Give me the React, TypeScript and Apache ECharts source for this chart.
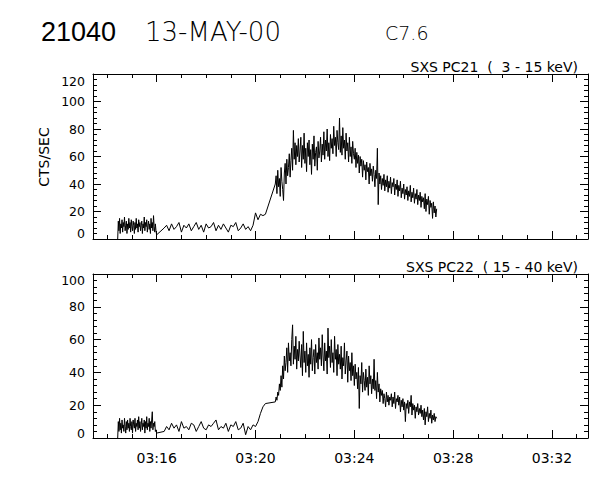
import React, { useEffect, useRef } from "react";
import * as echarts from "echarts";

// ---- time axis (minutes after 03:00) ----
const X_MIN = 13.42;
const X_MAX = 33.46;
const MAJOR_TICKS = [16, 20, 24, 28, 32];
const MINOR_TICKS = [14, 15, 17, 18, 19, 21, 22, 23, 25, 26, 27, 29, 30, 31, 33];

// ---- sampling of the three data segments (start minute, cadence in seconds) ----
const SEG1_START = 14.42;
const SEG1_DT = 1.5;
const SEG2_START = 16.3;
const SEG2_DT = 6;
const SEG3_START = 20.8;
const SEG3_DT = 2;

// ---- SXS PC21 (3 - 15 keV) counts/sec ----
const pc21Seg1 = [0, 13, 6, 15, 4, 11, 8, 14, 5, 12, 9, 16, 6, 10, 13, 4, 11, 7, 15, 8, 12, 5, 14, 9, 6, 13, 10, 4, 12, 7, 15, 8, 11, 5, 14, 9, 12, 6, 10, 13, 4, 11, 8, 16, 6, 12, 9, 14, 5, 10, 13, 7, 11, 4, 15, 8, 12, 6, 17, 9, 5, 11, 6, 3];
const pc21Seg2 = [8, 10, 6, 11, 7, 9, 12, 5, 10, 8, 11, 6, 9, 12, 7, 10, 5, 11, 8, 9, 12, 6, 10, 7, 11, 8, 5, 10, 9, 12, 6, 8, 11, 7, 9, 6, 10, 19, 14, 18, 17, 18];
const pc21Seg3 = [
  40, 46, 33, 50, 38, 44, 31, 52, 42, 36,
  28, 48, 55, 40, 58, 46, 52, 62, 45, 57,
  66, 50, 79, 58, 70, 54, 68, 60, 73, 56,
  64, 74, 52, 68, 58, 77, 55, 66, 49, 70,
  60, 72, 54, 65, 47, 69, 58, 75, 53, 63,
  67, 50, 71, 59, 64, 74, 56, 69, 61, 78,
  58, 72, 64, 80, 60, 70, 57, 76, 66, 73,
  62, 82, 68, 74, 60, 79, 70, 65, 88, 63,
  75, 61, 81, 66, 72, 58, 77, 64, 70, 56,
  74, 60, 67, 55, 71, 62, 58, 66, 52, 63,
  55, 61, 48, 60, 53, 58, 45, 57, 50, 54,
  43, 56, 49, 52, 40, 55, 46, 51, 42, 53,
  47, 38, 50, 44, 66, 25, 48, 40, 46, 36,
  44, 39, 47, 35, 43, 38, 46, 34, 42, 37,
  45, 33, 41, 38, 44, 32, 40, 36, 43, 31,
  39, 35, 42, 30, 37, 33, 40, 29, 36, 32,
  38, 28, 35, 31, 39, 27, 34, 30, 37, 26,
  33, 29, 36, 25, 32, 28, 34, 23, 31, 27,
  30, 22, 33, 20, 29, 25, 31, 18, 28, 23,
  26, 15, 27, 19, 24, 16, 22,
];

// ---- SXS PC22 (15 - 40 keV) counts/sec ----
const pc22Seg1 = [0, 10, 4, 12, 5, 9, 3, 11, 6, 8, 4, 12, 7, 3, 10, 5, 11, 6, 9, 4, 12, 7, 5, 10, 3, 11, 8, 6, 12, 4, 9, 7, 11, 5, 13, 6, 10, 4, 8, 12, 5, 9, 7, 11, 3, 10, 6, 13, 5, 9, 7, 12, 4, 10, 6, 11, 16, 5, 9, 7, 10, 4, 5, 3];
const pc22Seg2 = [4, 7, 5, 9, 6, 8, 4, 10, 6, 7, 5, 9, 8, 4, 7, 10, 6, 5, 8, 7, 9, 11, 5, 7, 6, 9, 4, 8, 7, 10, 5, 6, 9, 2, 7, 5, 8, 7, 10, 15, 19, 21];
const pc22Seg3 = [
  22, 25, 23, 28, 26, 33, 29, 38, 31, 44,
  36, 50, 41, 46, 55, 40, 58, 47, 52, 44,
  60, 69, 45, 56, 48, 62, 42, 54, 47, 59,
  50, 43, 57, 38, 65, 46, 53, 40, 58, 44,
  51, 37, 55, 45, 60, 41, 49, 54, 39, 57,
  46, 52, 42, 61, 48, 55, 44, 63, 50, 41,
  58, 47, 53, 39, 67, 49, 56, 43, 60, 46,
  52, 40, 62, 48, 54, 38, 57, 45, 51, 42,
  56, 36, 49, 44, 58, 39, 47, 53, 34, 50,
  41, 46, 35, 52, 38, 44, 32, 45, 36, 40,
  30, 43, 18, 38, 33, 46, 28, 40, 35, 29,
  42, 31, 37, 26, 44, 33, 38, 27, 36, 30,
  48, 29, 35, 24, 40, 28, 33, 22, 30, 26,
  29, 21, 27, 24, 19, 28, 22, 26, 20, 25,
  23, 27, 19, 25, 21, 28, 18, 24, 22, 26,
  20, 25, 16, 23, 19, 24, 17, 22, 10, 21,
  18, 23, 15, 22, 19, 26, 14, 21, 17, 20,
  12, 19, 16, 21, 14, 18, 15, 20, 13, 17,
  11, 18, 8, 16, 13, 19, 10, 15, 12, 17,
  9, 14, 11, 15, 10, 13, 12,
];

const TOP_Y_MAX = 120;
const BOTTOM_Y_MAX = 100;
const Y_INTERVAL = 20;

const segment = (start: number, dtSec: number, values: number[]) =>
  values.map((v, i) => [start + (i * dtSec) / 60, v]);

const buildSeries = (s1: number[], s2: number[], s3: number[]) => [
  ...segment(SEG1_START, SEG1_DT, s1),
  ...segment(SEG2_START, SEG2_DT, s2),
  ...segment(SEG3_START, SEG3_DT, s3),
];

const FONT = "DejaVu Sans";
const BLACK = "#000";

const fmtTime = (v: number) => "03:" + String(Math.round(v)).padStart(2, "0");

function xAxesFor(g: number, showLabels: boolean) {
  const base = {
    type: "value",
    gridIndex: g,
    min: X_MIN,
    max: X_MAX,
    splitLine: { show: false },
  };
  const line = { show: true, onZero: false, lineStyle: { color: BLACK, width: 1 } };
  const noLine = { show: false, onZero: false };
  return [
    {
      ...base,
      position: "bottom",
      axisLine: line,
      axisTick: { show: true, inside: true, length: 8, customValues: MAJOR_TICKS, lineStyle: { color: BLACK } },
      axisLabel: {
        show: showLabels,
        customValues: MAJOR_TICKS,
        formatter: fmtTime,
        color: BLACK,
        fontFamily: FONT,
        fontSize: 14,
        margin: 13,
      },
    },
    {
      ...base,
      position: "bottom",
      axisLine: noLine,
      axisTick: { show: true, inside: true, length: 4, customValues: MINOR_TICKS, lineStyle: { color: BLACK } },
      axisLabel: { show: false },
    },
    {
      ...base,
      position: "top",
      axisLine: line,
      axisTick: { show: true, inside: true, length: 8, customValues: MAJOR_TICKS, lineStyle: { color: BLACK } },
      axisLabel: { show: false },
    },
    {
      ...base,
      position: "top",
      axisLine: noLine,
      axisTick: { show: true, inside: true, length: 4, customValues: MINOR_TICKS, lineStyle: { color: BLACK } },
      axisLabel: { show: false },
    },
  ];
}

function yAxesFor(g: number, max: number, topShift: number, zeroShift: number) {
  const base = {
    type: "value",
    gridIndex: g,
    min: 0,
    max,
    interval: Y_INTERVAL,
    splitLine: { show: false },
    minorSplitLine: { show: false },
    axisLine: { show: true, onZero: false, lineStyle: { color: BLACK, width: 1 } },
    axisTick: { show: true, inside: true, length: 8, lineStyle: { color: BLACK } },
    minorTick: { show: true, splitNumber: 5, length: 4, lineStyle: { color: BLACK } },
  };
  return [
    {
      ...base,
      position: "left",
      axisLabel: {
        show: true,
        color: BLACK,
        fontFamily: FONT,
        fontSize: 12.5,
        margin: 8,
        formatter: (v: number) =>
          v === max ? "{t|" + v + "}" : v === 0 ? "{z|" + v + "}" : String(v),
        rich: {
          t: { fontFamily: FONT, fontSize: 12.5, color: BLACK, padding: [topShift * 2, 0, 0, 0] },
          z: { fontFamily: FONT, fontSize: 12.5, color: BLACK, padding: [0, 0, zeroShift * 2, 0] },
        },
      },
    },
    { ...base, position: "right", axisLabel: { show: false } },
  ];
}

export default function App() {
  const ref = useRef<HTMLDivElement>(null);

  useEffect(() => {
    if (!ref.current) return;
    const chart = echarts.init(ref.current, null, { renderer: "svg" });
    const lineStyle = { color: BLACK, width: 1 };
    chart.setOption({
      animation: false,
      backgroundColor: "#fff",
      grid: [
        { left: 93, top: 74, width: 495, height: 165 },
        { left: 93, top: 274, width: 495, height: 164 },
      ],
      xAxis: [...xAxesFor(0, false), ...xAxesFor(1, true)],
      yAxis: [...yAxesFor(0, TOP_Y_MAX, 7, 6), ...yAxesFor(1, BOTTOM_Y_MAX, 6, 5)],
      series: [
        {
          type: "line",
          xAxisIndex: 0,
          yAxisIndex: 0,
          data: buildSeries(pc21Seg1, pc21Seg2, pc21Seg3),
          symbol: "none",
          showSymbol: false,
          lineStyle,
        },
        {
          type: "line",
          xAxisIndex: 4,
          yAxisIndex: 2,
          data: buildSeries(pc22Seg1, pc22Seg2, pc22Seg3),
          symbol: "none",
          showSymbol: false,
          lineStyle,
        },
      ],
      graphic: [
        {
          type: "text",
          x: 41,
          y: 32,
          style: { text: "21040", fill: BLACK, font: "27px 'Liberation Sans'", verticalAlign: "middle" },
        },
        {
          type: "text",
          x: 145,
          y: 32,
          style: { text: "13-MAY-00", fill: BLACK, font: "200 26px 'DejaVu Sans'", verticalAlign: "middle" },
        },
        {
          type: "text",
          x: 385,
          y: 33,
          style: { text: "C7.6", fill: BLACK, font: "200 19px 'DejaVu Sans'", verticalAlign: "middle" },
        },
        {
          type: "text",
          x: 578,
          y: 67,
          style: { text: "SXS PC21  (  3 - 15 keV)", fill: BLACK, font: "14px 'DejaVu Sans'", align: "right", verticalAlign: "middle" },
        },
        {
          type: "text",
          x: 578,
          y: 267,
          style: { text: "SXS PC22  ( 15 - 40 keV)", fill: BLACK, font: "14px 'DejaVu Sans'", align: "right", verticalAlign: "middle" },
        },
        {
          type: "text",
          x: 44,
          y: 157,
          rotation: Math.PI / 2,
          style: { text: "CTS/SEC", fill: BLACK, font: "14px 'DejaVu Sans'", align: "center", verticalAlign: "middle" },
        },
      ],
    });
    return () => chart.dispose();
  }, []);

  return (
    <div
      ref={ref}
      style={{ position: "fixed", left: 0, top: 0, width: 600, height: 480, background: "#fff" }}
    />
  );
}
